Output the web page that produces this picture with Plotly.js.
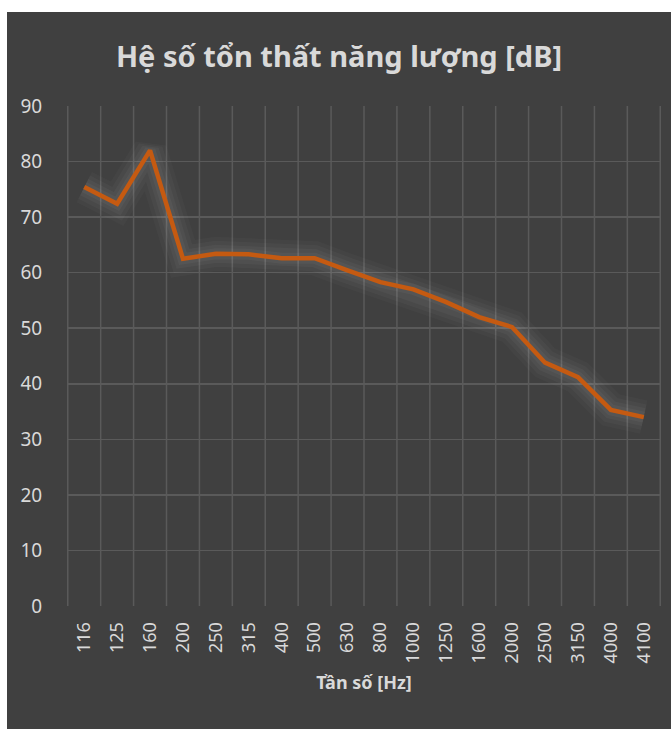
<!DOCTYPE html>
<html>
<head>
<meta charset="utf-8">
<script src="https://cdn.plot.ly/plotly-3.0.1.min.js"></script>
<style>
html,body{margin:0;padding:0;background:#ffffff;width:671px;height:729px;overflow:hidden;}
#chart{position:absolute;left:7px;top:12px;width:664px;height:717px;}
</style>
</head>
<body>
<div id="chart"></div>
<script>
const frequencies = ["116","125","160","200","250","315","400","500","630","800","1000","1250","1600","2000","2500","3150","4000","4100"];
const lossValues = [75.4,72.4,82.0,62.5,63.4,63.3,62.6,62.6,60.4,58.3,57.0,54.7,52.0,50.2,43.8,41.2,35.3,34.0];
const yTicks = [0,10,20,30,40,50,60,70,80,90];

function glow(w, a){
  return {x:frequencies, y:lossValues, type:'scatter', mode:'lines', hoverinfo:'skip',
    line:{color:'rgba(255,255,255,'+a+')', width:w}, showlegend:false};
}
const main = {x:frequencies, y:lossValues, type:'scatter', mode:'lines',
  line:{color:'#c55a11', width:4.5}, showlegend:false};

const layout = {
  width:664, height:717,
  paper_bgcolor:'#404040', plot_bgcolor:'#404040',
  margin:{l:60, r:10, t:94, b:123},
  font:{family:'Noto Sans, sans-serif', color:'#d9d9d9'},
  title:{text:'<b>Hệ số tổn thất năng lượng [dB]</b>', x:0.5, xanchor:'center', y:0.937, yanchor:'middle',
    font:{family:'Noto Sans, sans-serif', size:29, color:'#d9d9d9'}},
  xaxis:{type:'category', categoryorder:'array', categoryarray:frequencies,
    showgrid:false, zeroline:false, showline:false,
    tickangle:-90, tickfont:{size:18, color:'#d9d9d9'},
    ticks:'outside', ticklen:8, tickcolor:'rgba(0,0,0,0)',
    title:{text:'<b>Tần số [Hz]</b>', font:{size:18, color:'#d9d9d9'}, standoff:14}},
  yaxis:{range:[0,90], tickvals:yTicks, showgrid:true, gridcolor:'#5a5a5a', gridwidth:1.5,
    zeroline:false, showline:false, tickfont:{size:19, color:'#d9d9d9'},
    ticks:'outside', ticklen:20, tickcolor:'rgba(0,0,0,0)'},
  shapes: frequencies.map((f,i)=>({type:'line', xref:'x', yref:'paper', x0:i-0.5, x1:i-0.5, y0:0, y1:1,
      line:{color:'#5a5a5a', width:1.5}, layer:'below'}))
    .concat([{type:'line', xref:'x', yref:'paper', x0:frequencies.length-0.5, x1:frequencies.length-0.5, y0:0, y1:1,
      line:{color:'#5a5a5a', width:1.5}, layer:'below'}])
};

Plotly.newPlot('chart', [glow(34,0.025), glow(26,0.03), glow(18,0.035), glow(11,0.04), main], layout, {displayModeBar:false, staticPlot:true});
</script>
</body>
</html>
